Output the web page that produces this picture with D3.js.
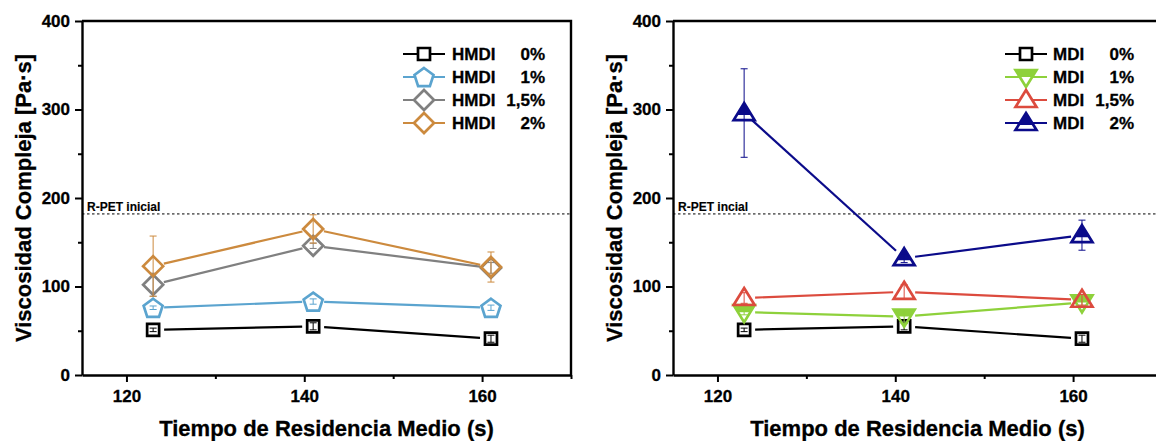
<!DOCTYPE html>
<html>
<head>
<meta charset="utf-8">
<script src="https://cdn.jsdelivr.net/npm/d3@7"></script>
<style>
  body { margin: 0; background: #fff; }
  svg { display: block; }
  text { font-family: "Liberation Sans", Arial, sans-serif; font-weight: bold; fill: #000; stroke: #000; stroke-width: 0.3px; }
</style>
</head>
<body>
<svg id="chart" width="1156" height="441"></svg>
<script>
// Mean residence time (s) of each extrusion condition
const times = [123, 141, 161];

// Axis ticks
const xTicks = [120, 140, 160];
const xMinorTicks = [130, 150, 170];
const yTicks = [0, 100, 200, 300, 400];
const yMinorTicks = [50, 150, 250, 350];

// Complex viscosity of the initial R-PET (reference line)
const refValue = 182;

// Legend texts
const hmdiNames = ["HMDI", "HMDI", "HMDI", "HMDI"];
const mdiNames = ["MDI", "MDI", "MDI", "MDI"];
const contents = ["0%", "1%", "1,5%", "2%"];

// HMDI chain extender: complex viscosity [Pa·s] and error
const hmdi0 = [51, 55, 41];
const hmdi0Err = [2, 4, 4];
const hmdi1 = [76, 83, 76];
const hmdi1Err = [2, 3, 3];
const hmdi15 = [102, 146, 121];
const hmdi15Err = [13, 3, 6];
const hmdi2 = [123, 165, 122];
const hmdi2Err = [34, 16, 17];

// MDI chain extender: complex viscosity [Pa·s] and error
const mdi0 = [51, 55, 41];
const mdi0Err = [2, 4, 4];
const mdi1 = [71, 66, 82];
const mdi1Err = [3, 8, 4];
const mdi15 = [87, 94, 85];
const mdi15Err = [6, 8, 6];
const mdi2 = [296, 132, 158];
const mdi2Err = [50, 5, 17];

const svg = d3.select("#chart");

const W = 489, H = 354, TOP = 21;

// symbol outlines, centred on the data point
function symbolPath(shape) {
  switch (shape) {
    case "square": return "M-6,-6H6V6H-6Z";
    case "pentagon": {
      const r = 10;
      const pts = d3.range(5).map(k => {
        const a = (-90 + 72 * k) * Math.PI / 180;
        return [r * Math.cos(a), r * Math.sin(a) + 1];
      });
      return "M" + pts.map(p => p.join(",")).join("L") + "Z";
    }
    case "diamond": return "M0,-10L10,0L0,10L-10,0Z";
    case "up": return "M0,-10L10.5,7L-10.5,7Z";
    case "down": return "M-10.5,-7L10.5,-7L0,10Z";
  }
}
// solid part of the half-filled triangles
function halfFillPath(shape) {
  if (shape === "up") {
    const yCut = 2, hw = 10.5 * (yCut + 10) / 17;
    return `M0,-10L${hw},${yCut}L${-hw},${yCut}Z`;
  }
  if (shape === "down") {
    const yCut = 0, hw = 10.5 * (10 - yCut) / 17;
    return `M-10.5,-7L10.5,-7L${hw},${yCut}L${-hw},${yCut}Z`;
  }
  return null;
}

function drawPanel(left, series, opts) {
  const g = svg.append("g").attr("transform", `translate(${left},${TOP})`);
  const x = d3.scaleLinear().domain([115, 170]).range([0, W]);
  const y = d3.scaleLinear().domain([0, 400]).range([H, 0]);

  // frame (top and right)
  g.append("path")
    .attr("d", `M0,0H${W}V${H}`)
    .attr("fill", "none").attr("stroke", "#000").attr("stroke-width", 2.4);

  // bottom axis
  g.append("g").attr("transform", `translate(0,${H})`)
    .call(d3.axisBottom(x).tickValues(xTicks).tickSize(7).tickPadding(8).tickSizeOuter(0).tickFormat(d3.format("d")));
  g.append("g").attr("transform", `translate(0,${H})`)
    .call(d3.axisBottom(x).tickValues(xMinorTicks).tickSize(4).tickSizeOuter(0).tickFormat(""))
    .select(".domain").remove();

  // left axis
  g.append("g")
    .call(d3.axisLeft(y).tickValues(yTicks).tickSize(7).tickPadding(5).tickSizeOuter(0).tickFormat(d3.format("d")));
  g.append("g")
    .call(d3.axisLeft(y).tickValues(yMinorTicks).tickSize(4).tickSizeOuter(0).tickFormat(""))
    .select(".domain").remove();

  g.selectAll(".domain").attr("stroke", "#000").attr("stroke-width", 2.4);
  g.selectAll(".tick line").attr("stroke", "#000").attr("stroke-width", 2);
  g.selectAll(".tick text")
    .style("font-family", '"Liberation Sans", Arial, sans-serif')
    .style("font-weight", "bold").style("font-size", "17px")
    .attr("fill", "#000").attr("stroke", "#000").attr("stroke-width", 0.3);

  // axis titles
  g.append("text")
    .attr("transform", `translate(-51,${H / 2}) rotate(-90)`)
    .attr("text-anchor", "middle").style("font-size", "22px")
    .text("Viscosidad Compleja [Pa·s]");
  g.append("text")
    .attr("x", W / 2).attr("y", 415)
    .attr("text-anchor", "middle").style("font-size", "22px")
    .text("Tiempo de Residencia Medio (s)");

  // reference line
  g.append("line")
    .attr("x1", 0).attr("x2", W).attr("y1", y(refValue)).attr("y2", y(refValue))
    .attr("stroke", "#000").attr("stroke-width", 1).attr("stroke-dasharray", "2.5,2.5");
  g.append("text")
    .attr("x", 5).attr("y", y(refValue) - 3)
    .style("font-size", "12px").style("stroke-width", "0.15px")
    .text(opts.refLabel);

  // series
  const gap = 11;
  series.forEach(s => {
    const pts = times.map((t, i) => [x(t), y(s.values[i])]);
    const sg = g.append("g");
    // connecting segments, stopping short of each symbol
    d3.pairs(pts).forEach(([p0, p1]) => {
      const dx = p1[0] - p0[0], dy = p1[1] - p0[1];
      const len = Math.hypot(dx, dy);
      const ux = dx / len, uy = dy / len;
      sg.append("line")
        .attr("x1", p0[0] + ux * gap).attr("y1", p0[1] + uy * gap)
        .attr("x2", p1[0] - ux * gap).attr("y2", p1[1] - uy * gap)
        .attr("stroke", s.color).attr("stroke-width", 2.2);
    });
    // symbols
    pts.forEach(p => {
      const m = sg.append("g").attr("transform", `translate(${p[0]},${p[1]})`);
      const hf = s.half ? halfFillPath(s.shape) : null;
      if (hf) m.append("path").attr("d", hf).attr("fill", s.color);
      m.append("path").attr("d", symbolPath(s.shape))
        .attr("fill", "none").attr("stroke", s.color).attr("stroke-width", 2.7)
        .attr("stroke-linejoin", "miter");
    });
    // error bars
    times.forEach((t, i) => {
      const cx = x(t), v = s.values[i], e = s.err[i];
      const y0 = y(v - e), y1 = y(v + e);
      const eb = sg.append("g").attr("stroke", s.color).attr("stroke-width", 1);
      eb.append("line").attr("x1", cx).attr("x2", cx).attr("y1", y0).attr("y2", y1);
      eb.append("line").attr("x1", cx - 3.5).attr("x2", cx + 3.5).attr("y1", y0).attr("y2", y0);
      eb.append("line").attr("x1", cx - 3.5).attr("x2", cx + 3.5).attr("y1", y1).attr("y2", y1);
    });
  });

  // legend
  const lg = g.append("g");
  series.forEach((s, i) => {
    const cy = 33 + i * 23;
    const row = lg.append("g").attr("transform", `translate(${opts.legendX},${cy})`);
    row.append("line").attr("x1", -21).attr("x2", 21).attr("y1", 0).attr("y2", 0)
      .attr("stroke", s.color).attr("stroke-width", 2.2);
    const hf = s.half ? halfFillPath(s.shape) : null;
    row.append("path").attr("d", symbolPath(s.shape))
      .attr("fill", "#fff").attr("stroke", s.color).attr("stroke-width", 2.7);
    if (hf) row.append("path").attr("d", hf).attr("fill", s.color);
    row.append("text").attr("x", opts.nameDx).attr("y", 6)
      .style("font-size", "17px").text(s.name);
    row.append("text").attr("x", opts.pctDx).attr("y", 6)
      .attr("text-anchor", "end").style("font-size", "17px").text(s.pct);
  });
}

const hmdiSeries = [
  { values: hmdi0, err: hmdi0Err, color: "#000000", shape: "square" },
  { values: hmdi1, err: hmdi1Err, color: "#5ba4cf", shape: "pentagon" },
  { values: hmdi15, err: hmdi15Err, color: "#808080", shape: "diamond" },
  { values: hmdi2, err: hmdi2Err, color: "#cc8a3e", shape: "diamond" }
].map((s, i) => Object.assign(s, { name: hmdiNames[i], pct: contents[i] }));

const mdiSeries = [
  { values: mdi0, err: mdi0Err, color: "#000000", shape: "square" },
  { values: mdi1, err: mdi1Err, color: "#8ed13b", shape: "down", half: true },
  { values: mdi15, err: mdi15Err, color: "#dc4b3e", shape: "up" },
  { values: mdi2, err: mdi2Err, color: "#0b0b8a", shape: "up", half: true }
].map((s, i) => Object.assign(s, { name: mdiNames[i], pct: contents[i] }));

drawPanel(82, hmdiSeries, { refLabel: "R-PET inicial", legendX: 342, nameDx: 28, pctDx: 121 });
drawPanel(673, mdiSeries, { refLabel: "R-PET incial", legendX: 353, nameDx: 27, pctDx: 108 });
</script>
</body>
</html>
